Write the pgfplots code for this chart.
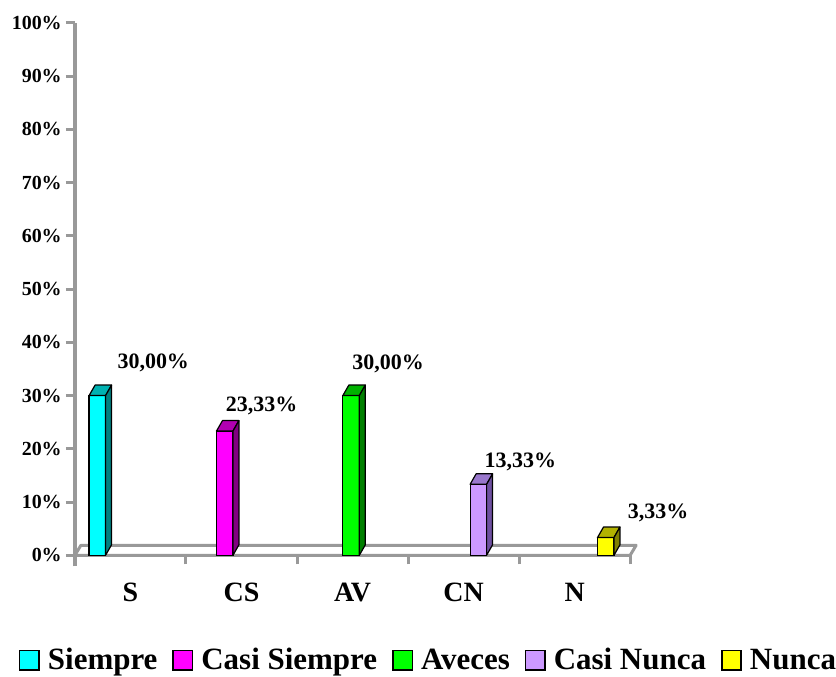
\documentclass[border=0pt]{standalone}
\usepackage{fontspec}
\setmainfont{Liberation Serif}
\usepackage{pgfplots}
\pgfplotsset{compat=1.18}
\usepackage{pgfplotstable}

\definecolor{axisgray}{RGB}{153,153,153}
\definecolor{fS}{RGB}{0,255,255}\definecolor{tS}{RGB}{0,178,178}\definecolor{sS}{RGB}{0,128,128}
\definecolor{fCS}{RGB}{255,0,255}\definecolor{tCS}{RGB}{178,0,178}\definecolor{sCS}{RGB}{128,0,128}
\definecolor{fAV}{RGB}{0,255,0}\definecolor{tAV}{RGB}{0,178,0}\definecolor{sAV}{RGB}{0,128,0}
\definecolor{fCN}{RGB}{204,153,255}\definecolor{tCN}{RGB}{153,119,204}\definecolor{sCN}{RGB}{110,80,160}
\definecolor{fN}{RGB}{255,255,0}\definecolor{tN}{RGB}{178,178,0}\definecolor{sN}{RGB}{128,128,0}

\pgfplotstableread{
x y
0.202 30
}\tabS
\pgfplotstableread{
x y
1.349 23.33
}\tabCS
\pgfplotstableread{
x y
2.487 30
}\tabAV
\pgfplotstableread{
x y
3.633 13.33
}\tabCN
\pgfplotstableread{
x y
4.780 3.33
}\tabN

\pgfplotsset{
  front/.style n args={3}{ybar, bar width=16.5pt, bar shift=0pt, fill=#1, draw=black,
    line width=1.2pt,
    nodes near coords={\pgfmathprintnumber[fixed,fixed zerofill,precision=2,use comma]{\pgfplotspointmeta}\%},
    every node near coord/.append style={anchor=base, xshift=#2, yshift=#3,
      font=\bfseries\fontsize{22}{22}\selectfont, inner sep=0pt, text=black}},
  cube/.style 2 args={scatter, only marks, mark=*, mark size=0pt, forget plot,
    mark options={draw=none, fill=none},
    visualization depends on={rawy \as \ry},
    scatter/@pre marker code/.code={%
      \pgfmathsetmacro\hh{\ry*5.33}%
      \pgfmathsetmacro\hb{10.5-\ry*5.33}%
      \filldraw[fill=#1, draw=black, line width=1.2pt, line join=round]
        (-8.25pt,0pt) -- (8.25pt,0pt) -- (14.25pt,10.5pt) -- (-2.25pt,10.5pt) -- cycle;
      \filldraw[fill=#2, draw=black, line width=1.2pt, line join=round]
        (8.25pt,0pt) -- (14.25pt,10.5pt) -- (14.25pt,\hb pt) -- (8.25pt,-\hh pt) -- cycle;
    },
    scatter/@post marker code/.code={}},
}

\begin{document}
\begin{tikzpicture}
\begin{axis}[
  anchor=origin, at={(0pt,0pt)},
  set layers,
  x=111.2pt, y=5.33pt,
  xmin=0, xmax=5, ymin=0, ymax=100,
  clip=false,
  axis x line*=bottom, axis y line*=left,
  axis line style={draw=none},
  /pgf/number format/assume math mode=true,
  xtick={0,1,2,3,4,5},
  xticklabels={S,CS,AV,CN,N},
  x tick label as interval,
  ytick={0,10,20,30,40,50,60,70,80,90,100},
  yticklabels={0\%,10\%,20\%,30\%,40\%,50\%,60\%,70\%,80\%,90\%,100\%},
  tick align=outside,
  major tick length=9pt,
  tick style={draw=axisgray, line width=3pt},
  yticklabel style={font=\bfseries\fontsize{20}{20}\selectfont, inner sep=0pt, anchor=east, xshift=-4pt},
  xticklabel style={font=\bfseries\fontsize{28}{28}\selectfont, inner sep=0pt, anchor=base, yshift=-37pt},
  legend image code/.code={\filldraw[#1, line width=1.5pt] (0.75pt,-0.25pt) rectangle (20.25pt,19.25pt);},
  legend style={at={(-0.1007,-0.1966)}, anchor=west, draw=none, fill=none,
    inner sep=0pt, outer sep=0pt,
    font=\bfseries\fontsize{31}{31}\selectfont,
    nodes={inner sep=0pt},
    cells={anchor=base west},
    /tikz/every odd column/.append style={column sep=8pt},
    /tikz/every even column/.append style={column sep=15pt}},
  legend columns=-1,
]
\begin{pgfonlayer}{axis background}
\draw[axisgray, line width=3pt, line join=round]
  (axis cs:0,0) -- ([shift={(6pt,10pt)}]axis cs:0,0) -- ([shift={(6pt,10pt)}]axis cs:5,0) -- (axis cs:5,0) -- cycle;
\end{pgfonlayer}
\draw[axisgray, line width=4pt] ([yshift=-11pt]axis cs:0,0) -- (axis cs:0,100);

\addplot[front={fS}{56pt}{27pt}] table {\tabS};
\addlegendentry{Siempre}
\addplot[front={fCS}{37pt}{19.5pt}] table {\tabCS};
\addlegendentry{Casi Siempre}
\addplot[front={fAV}{37pt}{26pt}] table {\tabAV};
\addlegendentry{Aveces}
\addplot[front={fCN}{42pt}{16.5pt}] table {\tabCN};
\addlegendentry{Casi Nunca}
\addplot[front={fN}{52.5pt}{19pt}] table {\tabN};
\addlegendentry{Nunca}

\addplot[cube={tS}{sS}] table {\tabS};
\addplot[cube={tCS}{sCS}] table {\tabCS};
\addplot[cube={tAV}{sAV}] table {\tabAV};
\addplot[cube={tCN}{sCN}] table {\tabCN};
\addplot[cube={tN}{sN}] table {\tabN};
\end{axis}
\path (-75pt,-121pt) rectangle (761pt,556pt);
\end{tikzpicture}
\end{document}
